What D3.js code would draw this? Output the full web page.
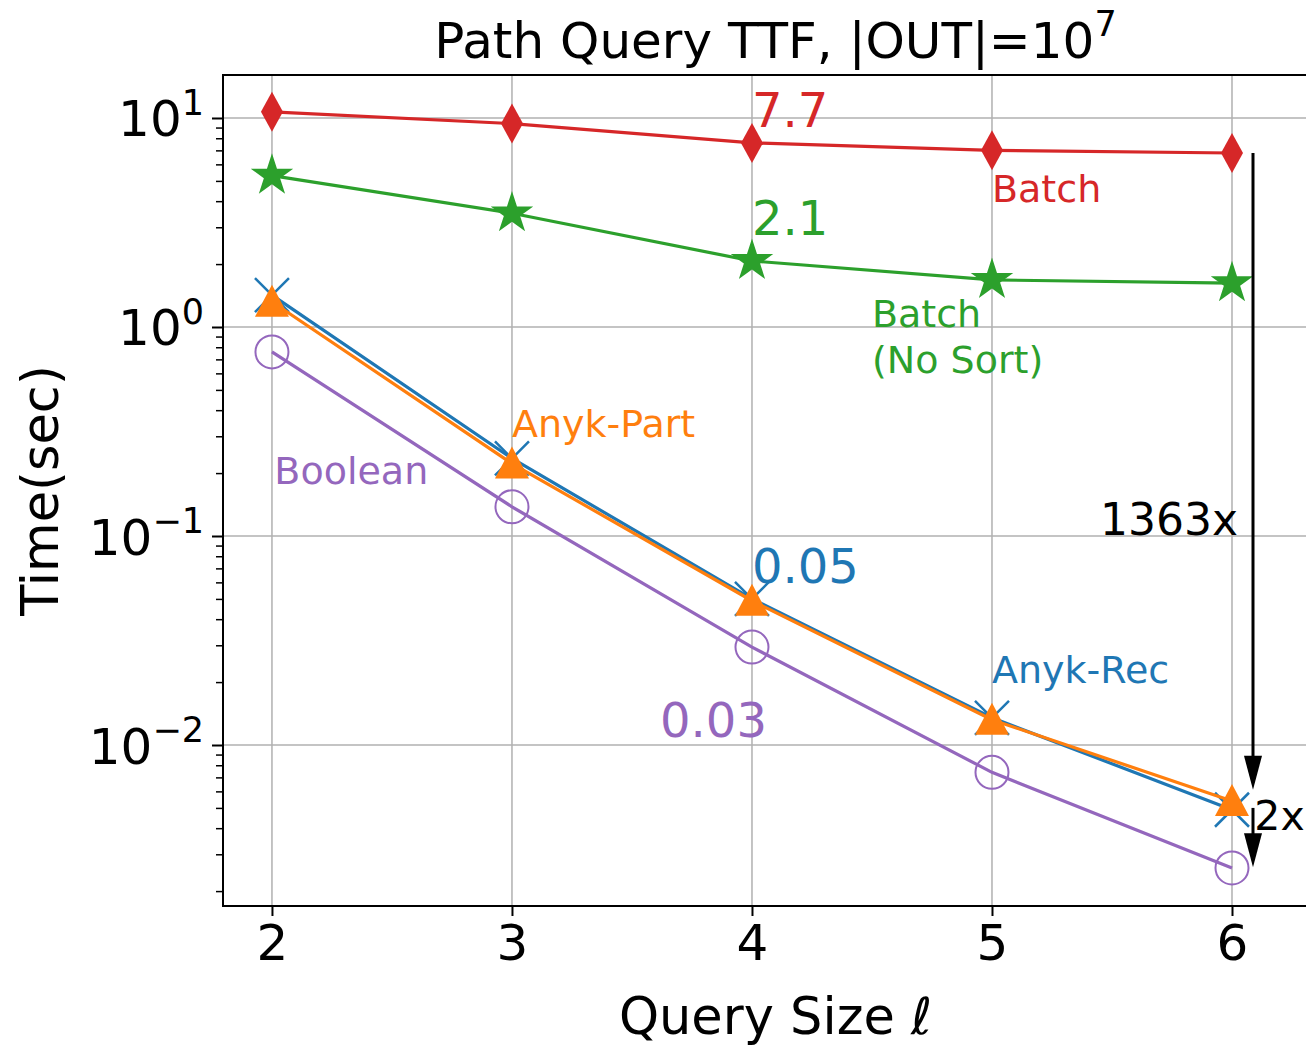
<!DOCTYPE html>
<html lang="en">
<head>
<meta charset="UTF-8">
<title>Path Query TTF</title>
<script src="https://d3js.org/d3.v7.min.js"></script>
<style>
  body { margin: 0; background: #fff; }
  svg text { font-family: "DejaVu Sans", sans-serif; }
</style>
</head>
<body>
<div id="chart"></div>
<script>
// query sizes on the x axis
const querySizes = [2, 3, 4, 5, 6];

// time to first result, seconds
const batch       = [10.7, 9.4, 7.6, 7.0, 6.8];
const batchNoSort = [5.3, 3.5, 2.07, 1.68, 1.62];
const anykRec     = [1.42, 0.235, 0.050, 0.0135, 0.0049];
const anykPart    = [1.32, 0.222, 0.049, 0.0132, 0.0054];
const booleanT    = [0.76, 0.138, 0.0294, 0.0074, 0.00258];

const yMajor = [0.01, 0.1, 1, 10];
const yMajorExp = ["\u22122", "\u22121", "0", "1"];

const width = 1306, height = 1048;
const margin = { left: 223, top: 75, bottom: 906, right: 1328 };

const svg = d3.select("#chart").append("svg")
  .attr("width", width).attr("height", height);

const x = d3.scaleLinear().domain([1.796, 6.4]).range([margin.left, margin.right]);
const y = d3.scaleLog().domain([Math.pow(10, -2.7703), Math.pow(10, 1.2057)])
  .range([margin.bottom, margin.top]);

// grid
svg.append("g").selectAll("line").data(querySizes).join("line")
  .attr("x1", d => x(d)).attr("x2", d => x(d))
  .attr("y1", margin.top).attr("y2", margin.bottom)
  .attr("stroke", "#b0b0b0").attr("stroke-width", 1.5);
svg.append("g").selectAll("line").data(yMajor).join("line")
  .attr("x1", margin.left).attr("x2", margin.right)
  .attr("y1", d => y(d)).attr("y2", d => y(d))
  .attr("stroke", "#b0b0b0").attr("stroke-width", 1.5);

// minor y ticks
const minor = [];
[0.001, 0.01, 0.1, 1, 10].forEach(dec => {
  for (let k = 2; k <= 9; k++) {
    const v = dec * k;
    if (v >= y.domain()[0] && v <= y.domain()[1]) minor.push(v);
  }
});
svg.append("g").attr("transform", `translate(${margin.left},0)`)
  .call(d3.axisLeft(y).tickValues(minor).tickSize(7).tickFormat(""))
  .call(g => g.select(".domain").remove())
  .call(g => g.selectAll("line").attr("stroke", "#000").attr("stroke-width", 1.5));

// major y ticks
const yAxis = svg.append("g").attr("transform", `translate(${margin.left},0)`)
  .call(d3.axisLeft(y).tickValues(yMajor).tickSize(11).tickPadding(8).tickFormat(""))
  .call(g => g.select(".domain").remove())
  .call(g => g.selectAll("line").attr("stroke", "#000").attr("stroke-width", 2));
yAxis.selectAll(".tick text").each(function(d, i) {
  const t = d3.select(this)
    .attr("fill", "#000").attr("font-size", 50).attr("dy", "0.36em")
    .attr("text-anchor", "end");
  t.append("tspan").text("10");
  t.append("tspan").attr("font-size", 35).attr("dy", "-0.62em").text(yMajorExp[i]);
});

// x axis
svg.append("g").attr("transform", `translate(0,${margin.bottom})`)
  .call(d3.axisBottom(x).tickValues(querySizes).tickSize(10).tickPadding(8).tickFormat(d3.format("d")))
  .call(g => g.select(".domain").remove())
  .call(g => g.selectAll("line").attr("stroke", "#000").attr("stroke-width", 2))
  .call(g => g.selectAll("text").attr("fill", "#000").attr("font-size", 50)
    .attr("font-family", "DejaVu Sans"));

// spines
svg.append("rect")
  .attr("x", margin.left).attr("y", margin.top)
  .attr("width", margin.right - margin.left).attr("height", margin.bottom - margin.top)
  .attr("fill", "none").attr("stroke", "#000").attr("stroke-width", 2);

// series
const line = d3.line().x((d, i) => x(querySizes[i])).y(d => y(d));
const plot = svg.append("g");

function drawSeries(vals, color, marker) {
  plot.append("path").datum(vals).attr("d", line)
    .attr("fill", "none").attr("stroke", color).attr("stroke-width", 3.2);
  const g = plot.append("g").selectAll("g").data(vals).join("g")
    .attr("transform", (d, i) => `translate(${x(querySizes[i])},${y(d)})`);
  marker(g, color);
}

const diamond = (g, c) => g.append("path").attr("d", "M0,-20L11,0L0,20L-11,0Z").attr("fill", c);
const star = (g, c) => g.append("path").attr("d", d3.symbol(d3.symbolStar, 560)()).attr("fill", c);
const cross = (g, c) => g.append("path").attr("d", "M-17,-17L17,17M-17,17L17,-17")
  .attr("stroke", c).attr("stroke-width", 2.5).attr("fill", "none");
const tri = (g, c) => g.append("path").attr("d", "M0,-17L17,15L-17,15Z").attr("fill", c);
const ring = (g, c) => g.append("circle").attr("r", 16.5)
  .attr("fill", "none").attr("stroke", c).attr("stroke-width", 2);

drawSeries(batch, "#d62728", diamond);
drawSeries(batchNoSort, "#2ca02c", star);
drawSeries(anykRec, "#1f77b4", cross);
drawSeries(anykPart, "#ff7f0e", tri);
drawSeries(booleanT, "#9467bd", ring);

// annotations: [text, x, y value, color, size]
const notes = [
  ["7.7", 4, 9.06, "#d62728", 48],
  ["Batch", 5, 3.96, "#d62728", 38],
  ["2.1", 4, 2.75, "#2ca02c", 48],
  ["Batch", 4.5, 1.0, "#2ca02c", 38],
  ["(No Sort)", 4.5, 0.6, "#2ca02c", 38],
  ["Anyk-Part", 3, 0.298, "#ff7f0e", 38],
  ["Boolean", 2.01, 0.177, "#9467bd", 38],
  ["0.05", 4, 0.0596, "#1f77b4", 48],
  ["Anyk-Rec", 5, 0.0198, "#1f77b4", 38],
  ["0.03", 3.617, 0.0109, "#9467bd", 48],
  ["1363x", 5.45, 0.101, "#000", 44],
  ["2x", 6.093, 0.0039, "#000", 41]
];
svg.append("g").selectAll("text").data(notes).join("text")
  .attr("x", d => x(d[1])).attr("y", d => y(d[2]))
  .attr("fill", d => d[3]).attr("font-size", d => d[4])
  .text(d => d[0]);

// arrows
const arrows = [[6.0875, 6.8, 0.0061], [6.0875, 0.005, 0.0026]];
arrows.forEach(([ax, from, to]) => {
  const x0 = x(ax), y0 = y(from), y1 = y(to);
  svg.append("line").attr("x1", x0).attr("x2", x0).attr("y1", y0).attr("y2", y1 - 30)
    .attr("stroke", "#000").attr("stroke-width", 3);
  svg.append("path")
    .attr("d", `M${x0 - 9},${y1 - 34}L${x0 + 9},${y1 - 34}L${x0},${y1}Z`)
    .attr("fill", "#000");
});

// titles
const cx = (margin.left + margin.right) / 2;
svg.append("text").attr("x", cx).attr("y", 58).attr("text-anchor", "middle")
  .attr("font-size", 50)
  .call(t => {
    t.append("tspan").text("Path Query TTF, |OUT|=10");
    t.append("tspan").attr("font-size", 35).attr("dy", -22).text("7");
  });
svg.append("text").attr("x", cx).attr("y", 1034).attr("text-anchor", "middle")
  .attr("font-size", 51)
  .call(t => {
    t.append("tspan").text("Query Size ");
    t.append("tspan").attr("font-style", "italic").text("\u2113");
  });
svg.append("text").attr("transform", `translate(58,${(margin.top + margin.bottom) / 2}) rotate(-90)`)
  .attr("text-anchor", "middle").attr("font-size", 51).text("Time(sec)");
</script>
</body>
</html>
